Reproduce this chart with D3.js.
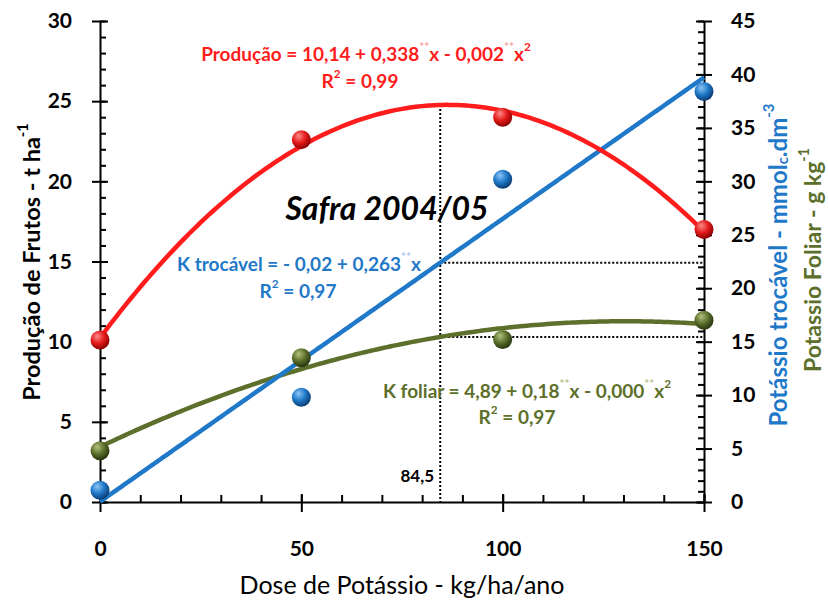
<!DOCTYPE html>
<html>
<head>
<meta charset="utf-8">
<script src="https://cdn.jsdelivr.net/npm/d3@7"></script>
<style>
  body { margin: 0; background: #fff; }
  svg text { font-family: Lato, "Open Sans", sans-serif; }
</style>
</head>
<body>
<svg id="chart" width="828" height="606"></svg>
<script>
var doses = [0, 50, 100, 150];
var producao = [10.1, 22.6, 24.0, 17.0];     // left axis, t/ha
var kTrocavel = [1.1, 9.8, 30.2, 38.4];      // right axis
var kFoliar = [4.8, 13.5, 15.2, 17.0];       // right axis
var xTicks = [0, 50, 100, 150];
var yLeftTicks = [0, 5, 10, 15, 20, 25, 30];
var yRightTicks = [0, 5, 10, 15, 20, 25, 30, 35, 40, 45];
var doseOtima = 84.5;

var RED = "#ff1c1c", BLUE = "#1f78c8", GREEN = "#5c6f2b";

var svg = d3.select("#chart");
var x = d3.scaleLinear().domain([0, 150]).range([100, 704]);
var yL = d3.scaleLinear().domain([0, 30]).range([502, 21]);
var yR = d3.scaleLinear().domain([0, 45]).range([502, 21]);

// least squares polynomial fit (degree 1 or 2), like excel trendlines
var polyfit = function(xs, ys, deg) {
  var n = deg + 1, A = [], b = [], i, j, k;
  for (i = 0; i < n; i++) {
    A.push([]);
    b.push(d3.sum(xs, function(v, idx) { return Math.pow(v, i) * ys[idx]; }));
    for (j = 0; j < n; j++) {
      A[i].push(d3.sum(xs, function(v) { return Math.pow(v, i + j); }));
    }
  }
  for (i = 0; i < n; i++) {
    for (k = i + 1; k < n; k++) {
      var f = A[k][i] / A[i][i];
      for (j = i; j < n; j++) A[k][j] -= f * A[i][j];
      b[k] -= f * b[i];
    }
  }
  var c = new Array(n);
  for (i = n - 1; i >= 0; i--) {
    var s = b[i];
    for (j = i + 1; j < n; j++) s -= A[i][j] * c[j];
    c[i] = s / A[i][i];
  }
  return function(v) {
    return c.reduce(function(acc, cc, p) { return acc + cc * Math.pow(v, p); }, 0);
  };
};

var fProd = polyfit(doses, producao, 2);
var fTroc = polyfit(doses, kTrocavel, 1);
var fFol = polyfit(doses, kFoliar, 2);

// sphere gradients
var defs = svg.append("defs");
[["red", "#ff8a8a", "#e31a1a", "#8c0000"], ["blue", "#8cc6f5", "#1f78c8", "#0b3d73"], ["green", "#b4c27e", "#5c6f2b", "#2a3510"]].forEach(function(g) {
  var rg = defs.append("radialGradient").attr("id", "g-" + g[0])
    .attr("cx", "40%").attr("cy", "35%").attr("r", "65%").attr("fx", "35%").attr("fy", "30%");
  rg.append("stop").attr("offset", "0%").attr("stop-color", g[1]);
  rg.append("stop").attr("offset", "55%").attr("stop-color", g[2]);
  rg.append("stop").attr("offset", "100%").attr("stop-color", g[3]);
});

// dotted guide lines at the optimal dose
var guides = svg.append("g").attr("stroke", "#000").attr("stroke-width", 2).attr("stroke-dasharray", "2,2");
guides.append("line").attr("x1", x(doseOtima)).attr("x2", x(doseOtima))
  .attr("y1", yL(fProd(doseOtima))).attr("y2", yL(0));
guides.append("line").attr("x1", x(doseOtima)).attr("x2", x(150))
  .attr("y1", yR(fTroc(doseOtima))).attr("y2", yR(fTroc(doseOtima)));
guides.append("line").attr("x1", x(doseOtima)).attr("x2", x(150))
  .attr("y1", yR(fFol(doseOtima))).attr("y2", yR(fFol(doseOtima)));

// axes
var axisStyle = function(g) {
  g.selectAll("path, line").attr("stroke", "#000").attr("stroke-width", 2);
  g.selectAll("text").attr("fill", "#000").attr("font-size", 21).attr("font-weight", 700);
};
// minor ticks
svg.append("g").attr("transform", "translate(" + x(0) + ",0)")
  .call(d3.axisRight(yL).tickValues(d3.range(0, 31, 1)).tickSize(6).tickFormat(""))
  .call(axisStyle).select(".domain").remove();
svg.append("g").attr("transform", "translate(" + x(150) + ",0)")
  .call(d3.axisLeft(yR).tickValues(d3.range(0, 46, 1)).tickSize(6).tickFormat(""))
  .call(axisStyle).select(".domain").remove();
svg.append("g").attr("transform", "translate(0," + yL(0) + ")")
  .call(d3.axisTop(x).tickValues(d3.range(0, 151, 10)).tickSize(7).tickFormat(""))
  .call(axisStyle).select(".domain").remove();

var gl = svg.append("g").attr("transform", "translate(" + x(0) + ",0)")
  .call(d3.axisLeft(yL).tickValues(yLeftTicks).tickSize(8).tickSizeOuter(0).tickPadding(20))
  .call(axisStyle);
gl.selectAll(".tick line").attr("x1", 8);
var gr = svg.append("g").attr("transform", "translate(" + x(150) + ",0)")
  .call(d3.axisRight(yR).tickValues(yRightTicks).tickSize(8).tickSizeOuter(0).tickPadding(19))
  .call(axisStyle);
gr.selectAll(".tick line").attr("x1", -8);
var gx = svg.append("g").attr("transform", "translate(0," + yL(0) + ")")
  .call(d3.axisBottom(x).tickValues(xTicks).tickSize(10).tickSizeOuter(0).tickPadding(29))
  .call(axisStyle);
gx.selectAll(".tick line").attr("y1", -8);

// trend curves
var xs = d3.range(0, 150.5, 1);
var line = d3.line().curve(d3.curveMonotoneX);
svg.append("path").attr("fill", "none").attr("stroke", GREEN).attr("stroke-width", 4.5)
  .attr("d", line(xs.map(function(v) { return [x(v), yR(fFol(v))]; })));
svg.append("path").attr("fill", "none").attr("stroke", BLUE).attr("stroke-width", 4.5)
  .attr("d", line(xs.map(function(v) { return [x(v), yR(Math.max(0, fTroc(v)))]; })));
svg.append("path").attr("fill", "none").attr("stroke", RED).attr("stroke-width", 4.5)
  .attr("d", line(xs.map(function(v) { return [x(v), yL(fProd(v))]; })));

// markers
var dots = function(vals, yScale, id) {
  svg.append("g").selectAll("circle").data(vals).join("circle")
    .attr("cx", function(d, i) { return x(doses[i]); })
    .attr("cy", function(d) { return yScale(d); })
    .attr("r", 9.5).attr("fill", "url(#g-" + id + ")");
};
dots(kTrocavel, yR, "blue");
dots(kFoliar, yR, "green");
dots(producao, yL, "red");

// rich text helper: segments [text, kind] kind: null | "sup" | "sub" | "star"
var rich = function(parent, segs, opts) {
  var t = parent.append("text").attr("x", opts.x).attr("y", opts.y)
    .attr("text-anchor", opts.anchor || "middle").attr("dominant-baseline", "central")
    .attr("font-size", opts.size).attr("font-weight", opts.weight || 700)
    .attr("fill", opts.fill);
  if (opts.rotate) t.attr("transform", "rotate(-90," + opts.x + "," + opts.y + ")");
  var shift = 0;
  segs.forEach(function(s) {
    var target = 0, fs = opts.size;
    if (s[1] === "sup" || s[1] === "star") { target = -opts.size * 0.38; fs = opts.size * 0.62; }
    if (s[1] === "sub") { target = opts.size * 0.22; fs = opts.size * 0.62; }
    var sp = t.append("tspan").attr("dy", target - shift).attr("font-size", fs).text(s[0]);
    if (s[1] === "star") sp.attr("fill", opts.star);
    shift = target;
  });
  return t;
};

// equations
rich(svg, [["Produção = 10,14 + 0,338"], ["**", "star"], ["x - 0,002"], ["**", "star"], ["x"], ["2", "sup"]],
  {x: 366, y: 53, size: 19, fill: RED, star: "#f7a3a3"});
rich(svg, [["R"], ["2", "sup"], [" = 0,99"]], {x: 360, y: 80, size: 19, fill: RED});

rich(svg, [["K trocável = - 0,02 + 0,263"], ["**", "star"], ["x"]],
  {x: 299, y: 263, size: 19, fill: BLUE, star: "#a9c6ee"});
rich(svg, [["R"], ["2", "sup"], [" = 0,97"]], {x: 298, y: 290, size: 19, fill: BLUE});

rich(svg, [["K foliar = 4,89 + 0,18"], ["**", "star"], ["x - 0,000"], ["**", "star"], ["x"], ["2", "sup"]],
  {x: 527, y: 390, size: 19, fill: GREEN, star: "#b9c38f"});
rich(svg, [["R"], ["2", "sup"], [" = 0,97"]], {x: 517, y: 416, size: 19, fill: GREEN});

svg.append("text").attr("x", 387).attr("y", 207).attr("text-anchor", "middle")
  .attr("dominant-baseline", "central").attr("font-size", 32).attr("font-weight", 700)
  .attr("font-style", "italic").attr("fill", "#000").text("Safra 2004/05");

svg.append("text").attr("x", 434).attr("y", 475).attr("text-anchor", "end")
  .attr("dominant-baseline", "central").attr("font-size", 17).attr("font-weight", 700)
  .attr("fill", "#000").text("84,5");

// axis titles
svg.append("text").attr("x", 402).attr("y", 584).attr("text-anchor", "middle")
  .attr("dominant-baseline", "central").attr("font-size", 25).attr("fill", "#000")
  .text("Dose de Potássio  - kg/ha/ano");
rich(svg, [["Produção de Frutos - t ha"], ["-1", "sup"]], {x: 31, y: 262, size: 23.5, fill: "#000", rotate: true});
rich(svg, [["Potássio trocável - mmol"], ["c", "sub"], [".dm"], ["-3", "sup"]], {x: 777, y: 265, size: 24, fill: BLUE, rotate: true});
rich(svg, [["Potassio Foliar - g kg"], ["-1", "sup"]], {x: 812, y: 260, size: 23, fill: GREEN, rotate: true});
</script>
</body>
</html>
